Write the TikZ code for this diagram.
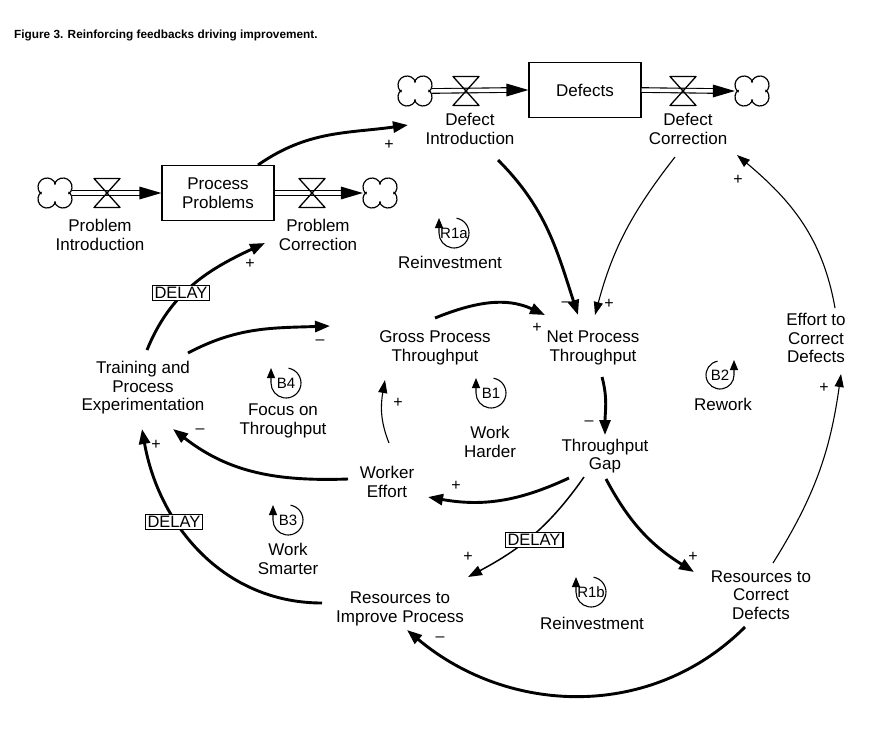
\documentclass[tikz,border=0pt]{standalone}
\usepackage{fontspec}
\setmainfont{Liberation Sans}
\usetikzlibrary{arrows.meta,calc}
\begin{document}
\begin{tikzpicture}[x=1pt,y=1pt,
  lbl/.style={align=center,font=\fontsize{17}{18.5}\selectfont,inner sep=0pt},
  sgn/.style={font=\fontsize{16}{16}\selectfont,inner sep=0pt},
  stock/.style={draw,line width=1.3pt,minimum width=112pt,minimum height=55pt,inner sep=0pt,align=center,font=\fontsize{17}{18.5}\selectfont},
  delaybox/.style={draw,fill=white,line width=1.1pt,font=\fontsize{16.5}{16.5}\selectfont,inner xsep=2.5pt,inner ysep=2pt},
  sink/.style={inner sep=0pt,minimum width=34pt,minimum height=30pt},
  thk/.style={line width=2.9pt,-{Triangle[length=15pt,width=11pt]}},
  thn/.style={line width=1.1pt,-{Triangle[length=13pt,width=9pt]}},
  med/.style={line width=1.5pt,-{Triangle[length=14pt,width=10pt]}},
  pipe/.style={double,double distance=3.5pt,line width=1.1pt},
  looptxt/.style={font=\fontsize{15}{15}\selectfont,inner sep=0pt},
  pics/cloudpic/.style={code={
    \draw[line width=1.2pt] ([shift={(-52:9pt)}]8pt,6pt) arc[start angle=-52,end angle=163,radius=9pt];
    \draw[line width=1.2pt] ([shift={(17:9pt)}]-8pt,6pt) arc[start angle=17,end angle=232,radius=9pt];
    \draw[line width=1.2pt] ([shift={(128:9pt)}]-8pt,-6pt) arc[start angle=128,end angle=343,radius=9pt];
    \draw[line width=1.2pt] ([shift={(197:9pt)}]8pt,-6pt) arc[start angle=197,end angle=412,radius=9pt];
  }},
  pics/valvepic/.style={code={\draw[line width=1.3pt,line join=round] (-13pt,14.5pt) -- (13pt,14.5pt) -- (-13pt,-14.5pt) -- (13pt,-14.5pt) -- cycle;}},
  pics/cwloop/.style={code={\draw[line width=1.1pt,-{Triangle[length=10pt,width=8pt]}] (80:15pt) arc[start angle=80,end angle=-180,radius=15pt] -- ++(0pt,15pt);}},
  pics/ccwloop/.style={code={\draw[line width=1.1pt,-{Triangle[length=10pt,width=8pt]}] (100:14pt) arc[start angle=100,end angle=360,radius=14pt] -- ++(0pt,15pt);}},
]
\useasboundingbox (0,0) rectangle (877,-728);

% title
\node[anchor=base west,font=\bfseries\fontsize{11.8}{14}\selectfont,inner sep=0pt] (title) at (14,-38) {Figure 3. Reinforcing feedbacks driving improvement.};

% stocks and flows
\node[stock] (defects) at (585,-90) {Defects};
\node[stock] (pp) at (218,-193) {Process\\Problems};
\node[sink] (c1) at (415,-91) {};
\node[sink] (c2) at (752,-91) {};
\node[sink] (c3) at (55,-193) {};
\node[sink] (c4) at (380,-193) {};
\coordinate (v1) at (466,-91);
\coordinate (v2) at (683,-91);
\coordinate (v3) at (107,-193);
\coordinate (v4) at (312,-193);

\draw[pipe] (c1.east) -- ([xshift=-20pt]defects.west);
\fill (defects.west) -- ++(-22pt,6.5pt) -- ++(0pt,-13pt) -- cycle;
\draw[pipe] (defects.east) -- ([xshift=-20pt]c2.west);
\fill (c2.west) -- ++(-22pt,6.5pt) -- ++(0pt,-13pt) -- cycle;
\draw[pipe] (c3.east) -- ([xshift=-20pt]pp.west);
\fill (pp.west) -- ++(-22pt,6.5pt) -- ++(0pt,-13pt) -- cycle;
\draw[pipe] (pp.east) -- ([xshift=-20pt]c4.west);
\fill (c4.west) -- ++(-22pt,6.5pt) -- ++(0pt,-13pt) -- cycle;

\pic at (v1) {valvepic};
\pic at (v2) {valvepic};
\pic at (v3) {valvepic};
\pic at (v4) {valvepic};
\pic at (c1) {cloudpic};
\pic at (c2) {cloudpic};
\pic at (c3) {cloudpic};
\pic at (c4) {cloudpic};

% variables
\node[lbl] (DIntro) at (470,-129) {Defect\\Introduction};
\node[lbl] (DCorr) at (688,-129) {Defect\\Correction};
\node[lbl] (PIntro) at (100,-235) {Problem\\Introduction};
\node[lbl] (PCorr) at (318,-235) {Problem\\Correction};
\node[lbl] (training) at (143,-388) {Training and\\Process\\Experimentation};
\node[lbl] (gross) at (435,-348) {Gross Process\\Throughput};
\node[lbl] (net) at (593,-348) {Net Process\\Throughput};
\node[lbl] (gap) at (605,-456) {Throughput\\Gap};
\node[lbl] (worker) at (387,-482) {Worker\\Effort};
\node[lbl] (effort) at (816,-338) {Effort to\\Correct\\Defects};
\node[lbl] (rcd) at (761,-595) {Resources to\\Correct\\Defects};
\node[lbl] (rip) at (400,-609) {Resources to\\Improve Process};

% causal links
\draw[thk] ([shift={(40,28)}]pp.center) to[out=35,in=188] ([shift={(-62,4)}]DIntro.center);
\draw[thk] ([shift={(4,38)}]training.center) to[out=68,in=205] ([shift={(-53,-8)}]PCorr.center);
\draw[thk] ([shift={(45,35)}]training.center) to[out=28,in=182] ([shift={(-105,22)}]gross.center);
\draw[thk] ([shift={(0,30)}]gross.center) to[out=22,in=155] ([shift={(-48,33)}]net.center);
\draw[thk] ([shift={(28,-31)}]DIntro.center) to[out=-45,in=108] ([shift={(-15,33)}]net.center);
\draw[thn] ([shift={(-13,-28)}]DCorr.center) to[out=-128,in=75] ([shift={(2,33)}]net.center);
\draw[thk] ([shift={(9,-29)}]net.center) to[out=-75,in=90] ([shift={(0,21)}]gap.center);
\draw[thk] ([shift={(-36,-22)}]gap.center) to[out=205,in=-10] ([shift={(41,-15)}]worker.center);
\draw[thn] ([shift={(2,39)}]worker.center) to[out=112,in=-100] ([shift={(-50,-32)}]gross.center);
\draw[thk] ([shift={(-39,3)}]worker.center) to[out=182,in=-38] ([shift={(30,-41)}]training.center);
\draw[thk] ([shift={(-78,6)}]rip.center) to[out=180,in=-80] ([shift={(-1,-41)}]training.center);
\draw[med] ([shift={(-21,-21)}]gap.center) to[out=-125,in=28] ([shift={(68,32)}]rip.center);
\draw[thk] ([shift={(1,-23)}]gap.center) to[out=-62,in=148] ([shift={(-67,23)}]rcd.center);
\draw[thn] ([shift={(12,32)}]rcd.center) to[out=58,in=-98] ([shift={(25,-36)}]effort.center);
\draw[thn] ([shift={(19,30)}]effort.center) to[out=100,in=-40] ([shift={(49,-26)}]DCorr.center);
\draw[thk] ([shift={(-16,-32)}]rcd.center) to[out=225,in=-40] ([shift={(7,-21)}]rip.center);

% delays
\node[delaybox] (d1) at (181,-293) {DELAY};
\node[delaybox] (d2) at (174,-522) {DELAY};
\node[delaybox] (d3) at (534,-540) {DELAY};

% polarity signs
\node[sgn] (s1) at (389,-145) {+};
\node[sgn] (s2) at (250,-264) {+};
\node[sgn] (s3) at (320,-342) {\textendash};
\node[sgn] (s4) at (537,-328) {+};
\node[sgn] (s5) at (566,-304) {\textendash};
\node[sgn] (s6) at (609,-304) {+};
\node[sgn] (s7) at (589,-423) {\textendash};
\node[sgn] (s8) at (456,-486) {+};
\node[sgn] (s9) at (398,-403) {+};
\node[sgn] (s10) at (200,-431) {\textendash};
\node[sgn] (s11) at (156,-445) {+};
\node[sgn] (s12) at (468,-557) {+};
\node[sgn] (s13) at (693,-557) {+};
\node[sgn] (s14) at (824,-388) {+};
\node[sgn] (s15) at (738,-180) {+};
\node[sgn] (s16) at (440,-639) {\textendash};

% loop identifiers
\node[looptxt] (r1a) at (454,-233) {R1a};
\pic at (r1a) {cwloop};
\node[lbl] (r1aL) at (450,-262) {Reinvestment};
\node[looptxt] (b4) at (286,-383) {B4};
\pic at (b4) {cwloop};
\node[lbl] (b4L) at (283,-421) {Focus on\\Throughput};
\node[looptxt] (b1) at (491,-393) {B1};
\pic at (b1) {cwloop};
\node[lbl] (b1L) at (490,-442) {Work\\Harder};
\node[looptxt] (b2) at (720,-375) {B2};
\pic at (b2) {ccwloop};
\node[lbl] (b2L) at (723,-404) {Rework};
\node[looptxt] (b3) at (288,-520) {B3};
\pic at (b3) {cwloop};
\node[lbl] (b3L) at (288,-559) {Work\\Smarter};
\node[looptxt] (r1b) at (591,-592) {R1b};
\pic at (r1b) {cwloop};
\node[lbl] (r1bL) at (592,-623) {Reinvestment};
\end{tikzpicture}
\end{document}
